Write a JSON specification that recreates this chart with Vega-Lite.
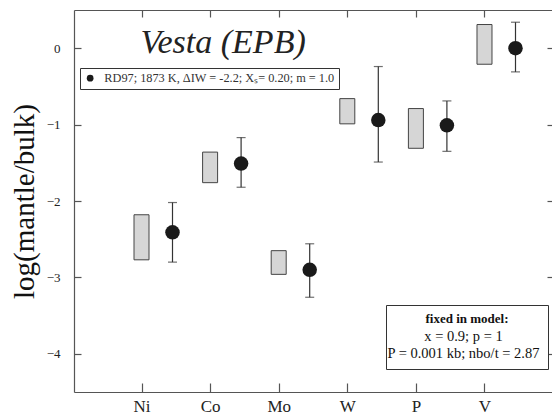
{
  "$schema": "https://vega.github.io/schema/vega-lite/v6.json",
  "width": 478,
  "height": 382,
  "autosize": "none",
  "padding": {"left": 74, "top": 10, "right": 0, "bottom": 25},
  "background": "white",
  "config": {
    "view": {"stroke": null},
    "font": "Liberation Serif",
    "axis": {"grid": false, "domainColor": "#555", "tickColor": "#555", "domainWidth": 1.2, "tickWidth": 1.2, "labelFont": "Liberation Serif", "titleFont": "Liberation Serif", "labelColor": "#222", "titleColor": "#111"}
  },
  "datasets": {
    "boxes": [
      {"element": "Ni", "lo": -2.77, "hi": -2.18},
      {"element": "Co", "lo": -1.76, "hi": -1.36},
      {"element": "Mo", "lo": -2.96, "hi": -2.65},
      {"element": "W", "lo": -0.99, "hi": -0.66},
      {"element": "P", "lo": -1.31, "hi": -0.79},
      {"element": "V", "lo": -0.21, "hi": 0.31}
    ],
    "points": [
      {"element": "Ni", "value": -2.41, "elo": -2.8, "ehi": -2.02, "series": "RD97; 1873 K, ΔIW = -2.2; Xₛ= 0.20; m = 1.0"},
      {"element": "Co", "value": -1.51, "elo": -1.82, "ehi": -1.17, "series": "RD97; 1873 K, ΔIW = -2.2; Xₛ= 0.20; m = 1.0"},
      {"element": "Mo", "value": -2.9, "elo": -3.26, "ehi": -2.56, "series": "RD97; 1873 K, ΔIW = -2.2; Xₛ= 0.20; m = 1.0"},
      {"element": "W", "value": -0.94, "elo": -1.49, "ehi": -0.24, "series": "RD97; 1873 K, ΔIW = -2.2; Xₛ= 0.20; m = 1.0"},
      {"element": "P", "value": -1.01, "elo": -1.35, "ehi": -0.69, "series": "RD97; 1873 K, ΔIW = -2.2; Xₛ= 0.20; m = 1.0"},
      {"element": "V", "value": 0.0, "elo": -0.31, "ehi": 0.34, "series": "RD97; 1873 K, ΔIW = -2.2; Xₛ= 0.20; m = 1.0"}
    ],
    "notes": [
      {"note": "x = 0.9; p = 1"},
      {"note": "P = 0.001 kb; nbo/t = 2.87"}
    ]
  },
  "layer": [
    {
      "data": {"name": "boxes"},
      "mark": {"type": "bar", "width": 15, "fill": "#d6d6d6", "stroke": "#444", "strokeWidth": 1},
      "encoding": {
        "x": {
          "field": "element", "type": "nominal", "sort": null,
          "scale": {"type": "point", "domain": ["Ni", "Co", "Mo", "W", "P", "V"], "padding": 0.984},
          "axis": {"orient": "bottom", "title": null, "tickSize": -9, "labelPadding": 15, "labelFontSize": 17, "labelAngle": 0}
        },
        "y": {
          "field": "lo", "type": "quantitative",
          "scale": {"domain": [-4.5, 0.5], "nice": false, "zero": false},
          "axis": {"orient": "left", "values": [-4, -3, -2, -1, 0], "tickSize": -7, "labelPadding": 21, "labelFontSize": 13, "title": "log(mantle/bulk)", "titleFontSize": 29, "titleFontWeight": "normal", "titlePadding": 7}
        },
        "y2": {"field": "hi"}
      }
    },
    {
      "data": {"name": "points"},
      "encoding": {
        "x": {
          "field": "element", "type": "nominal", "sort": null,
          "scale": {"type": "point", "domain": ["Ni", "Co", "Mo", "W", "P", "V"], "padding": 0.984},
          "axis": {"orient": "top", "labels": false, "tickSize": -7, "title": "Vesta (EPB)", "titleFont": "Liberation Serif", "titleFontStyle": "italic", "titleFontWeight": "normal", "titleFontSize": 34, "titleColor": "#222", "titleX": 66, "titleY": 42, "titleAlign": "left", "titleAnchor": "start", "titleBaseline": "alphabetic", "titleAngle": 0}
        }
      },
      "layer": [
        {
          "mark": {"type": "rule", "xOffset": 31, "color": "#333", "strokeWidth": 1.2},
          "encoding": {
            "y": {"field": "elo", "type": "quantitative", "scale": {"domain": [-4.5, 0.5], "nice": false, "zero": false},
              "axis": {"orient": "right", "values": [-4, -3, -2, -1, 0], "labels": false, "domain": false, "title": null, "tickSize": -5}},
            "y2": {"field": "ehi"}
          }
        },
        {
          "mark": {"type": "tick", "xOffset": 31, "color": "#333", "size": 9, "thickness": 1.2, "orient": "horizontal"},
          "encoding": {"y": {"field": "ehi", "type": "quantitative"}}
        },
        {
          "mark": {"type": "tick", "xOffset": 31, "color": "#333", "size": 9, "thickness": 1.2, "orient": "horizontal"},
          "encoding": {"y": {"field": "elo", "type": "quantitative"}}
        },
        {
          "mark": {"type": "circle", "xOffset": 31, "size": 210, "opacity": 1},
          "encoding": {
            "y": {"field": "value", "type": "quantitative"},
            "color": {
              "field": "series", "type": "nominal",
              "scale": {"range": ["#1a1a1a"]},
              "legend": {"orient": "none", "legendX": 6, "legendY": 58, "title": null, "strokeColor": "#333", "padding": 4, "symbolType": "circle", "symbolSize": 45, "labelFont": "Liberation Serif", "labelFontSize": 12.3, "labelColor": "#333", "labelOffset": 8, "labelLimit": 400, "fillColor": "white"}
            }
          }
        }
      ]
    },
    {
      "data": {"name": "notes"},
      "mark": {"type": "point", "opacity": 0},
      "encoding": {
        "shape": {
          "field": "note", "type": "nominal", "sort": null,
          "scale": {"range": ["circle", "circle"]},
          "legend": {"orient": "none", "legendX": 312, "legendY": 295, "title": "fixed in model:", "titleFont": "Liberation Serif", "titleFontWeight": "bold", "titleFontSize": 13, "titleColor": "#111", "titleAnchor": "middle", "titlePadding": 4, "labelFont": "Liberation Serif", "labelFontSize": 14.5, "labelColor": "#111", "labelAlign": "center", "labelOffset": 55, "symbolSize": 1, "symbolOpacity": 0, "strokeColor": "#333", "padding": 8, "rowPadding": 2, "fillColor": "white", "labelLimit": 300}
        }
      }
    }
  ],
  "resolve": {"axis": {"x": "independent", "y": "independent"}}
}
